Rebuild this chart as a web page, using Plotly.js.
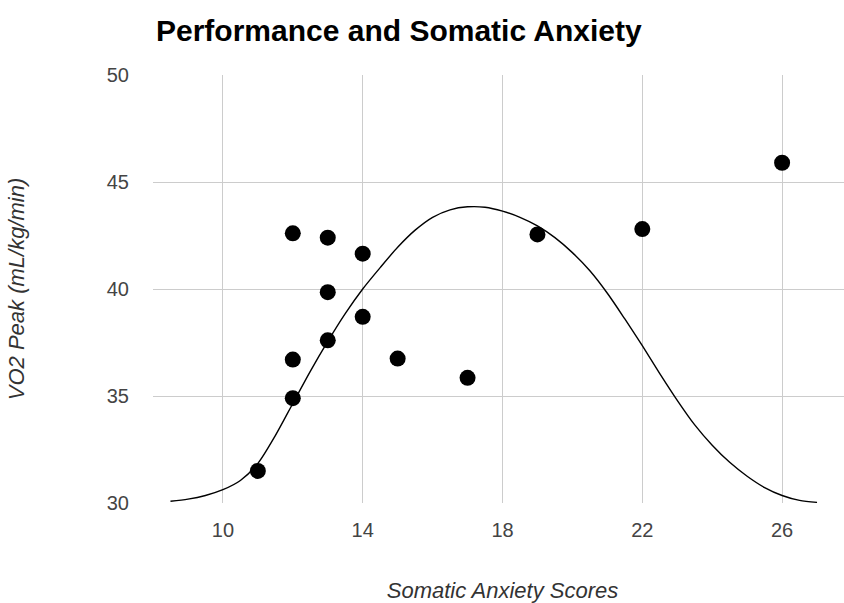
<!DOCTYPE html>
<html>
<head>
<meta charset="utf-8">
<script src="https://cdn.plot.ly/plotly-3.0.1.min.js"></script>
<style>
html,body{margin:0;padding:0;overflow:hidden;background:#fff;width:844px;height:603px;}
#chart{width:852px;height:603px;}
</style>
</head>
<body>
<div id="chart"></div>
<script>
// Scatter data: Somatic Anxiety Scores vs VO2 Peak
var anxietyScores = [11, 12, 12, 12, 13, 13, 13, 14, 14, 15, 17, 19, 22, 26];
var vo2Peak = [31.5, 42.6, 36.7, 34.9, 42.4, 39.85, 37.6, 41.65, 38.7, 36.75, 35.85, 42.55, 42.8, 45.9];

// Trend curve
var curveX = [8.5, 9, 9.5, 10, 10.5, 11, 11.5, 12, 12.5, 13, 13.5, 14, 14.5, 15, 15.5, 16, 16.5, 17, 17.5,
              18, 18.5, 19, 19.5, 20, 20.5, 21, 21.5, 22, 22.5, 23, 23.5, 24, 24.5, 25, 25.5, 26, 26.5, 27];
var curveY = [30.08, 30.18, 30.35, 30.62, 31.05, 31.85, 33.15, 34.65, 36.15, 37.55, 38.85, 40.0, 41.0, 41.95, 42.75, 43.35, 43.7, 43.84, 43.82,
              43.64, 43.35, 42.95, 42.4, 41.7, 40.85, 39.8, 38.6, 37.35, 36.05, 34.8, 33.65, 32.7, 31.9, 31.25, 30.72, 30.35, 30.12, 30.03];

var xTicks = [10, 14, 18, 22, 26];
var yTicks = [30, 35, 40, 45, 50];

var FONT = 'Liberation Sans, Arial, sans-serif';

var traces = [
  {
    x: curveX, y: curveY, type: 'scatter', mode: 'lines',
    line: {color: '#000000', width: 1.4, shape: 'spline', smoothing: 0.8},
    hoverinfo: 'skip', showlegend: false
  },
  {
    x: anxietyScores, y: vo2Peak, type: 'scatter', mode: 'markers',
    marker: {color: '#000000', size: 16}, showlegend: false
  }
];

var layout = {
  width: 852, height: 603,
  margin: {l: 153, r: 0, t: 75, b: 100},
  paper_bgcolor: '#ffffff', plot_bgcolor: '#ffffff',
  title: {
    text: '<b>Performance and Somatic Anxiety</b>',
    font: {family: FONT, size: 30, color: '#000000'},
    x: 0, xref: 'paper', xanchor: 'left', y: 0.95, yref: 'container', yanchor: 'middle',
    pad: {l: 3}
  },
  xaxis: {
    range: [8, 28], tickvals: xTicks, ticktext: xTicks.map(String),
    showgrid: true, gridcolor: '#cccccc', gridwidth: 1, zeroline: false, showline: false,
    ticks: '', ticklabelstandoff: 13,
    tickfont: {family: FONT, size: 20, color: '#444444'},
    title: {text: '<i>Somatic Anxiety Scores</i>', standoff: 42,
      font: {family: FONT, size: 22, color: '#333333'}}
  },
  yaxis: {
    range: [30, 50], tickvals: yTicks, ticktext: yTicks.map(String),
    showgrid: true, gridcolor: '#cccccc', gridwidth: 1, zeroline: false, showline: false,
    ticks: '', ticklabelstandoff: 23,
    tickfont: {family: FONT, size: 20, color: '#444444'},
    title: {text: '<i>VO2 Peak (mL/kg/min)</i>', standoff: 76,
      font: {family: FONT, size: 22, color: '#333333'}}
  },
  showlegend: false
};

Plotly.newPlot('chart', traces, layout, {displayModeBar: false, staticPlot: true});
</script>
</body>
</html>
